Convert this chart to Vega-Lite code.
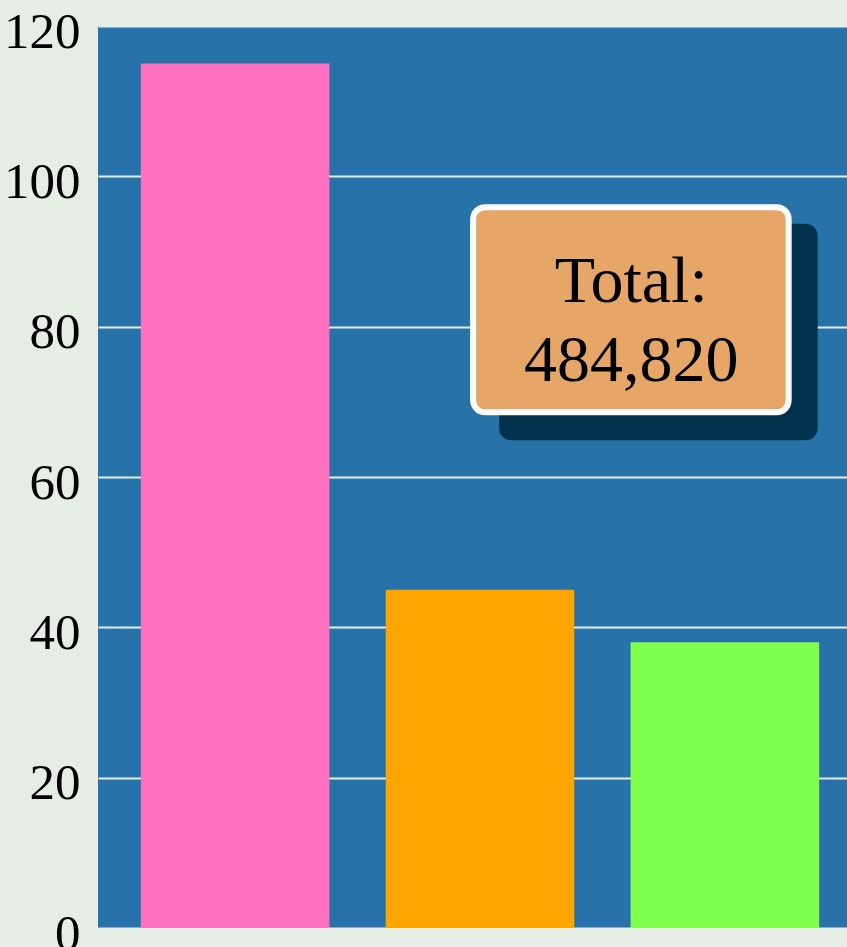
{
  "$schema": "https://vega.github.io/schema/vega-lite/v6.json",
  "width": 764,
  "height": 902,
  "autosize": {"type": "none"},
  "padding": {"left": 98, "top": 26, "right": 0, "bottom": 19},
  "background": "#e6ede5",
  "config": {"view": {"fill": "#2772a8", "stroke": null}, "font": "Liberation Serif"},
  "layer": [
    {
      "data": {"values": [
        {"category": "A", "value": 115},
        {"category": "B", "value": 45},
        {"category": "C", "value": 38}
      ]},
      "mark": {"type": "bar"},
      "encoding": {
        "x": {"field": "category", "type": "nominal", "sort": null, "axis": null,
              "scale": {"paddingInner": 0.23, "paddingOuter": 0.175}},
        "y": {"field": "value", "type": "quantitative",
              "scale": {"domain": [0, 120], "nice": false},
              "axis": {"values": [0, 20, 40, 60, 80, 100, 120], "grid": true, "gridColor": "#e6ede5", "gridWidth": 2,
                       "domain": false, "ticks": false, "labelFont": "Liberation Serif", "labelFontSize": 51,
                       "labelColor": "#000000", "labelPadding": 18, "labelOffset": 6, "title": null}},
        "color": {"field": "category", "type": "nominal", "legend": null,
                  "scale": {"domain": ["A", "B", "C"], "range": ["#ff70c0", "#ffa500", "#80ff4c"]}}
      }
    },
    {
      "data": {"values": [{"x1": 52.5, "x2": 94.2, "y1": 93.7, "y2": 64.9}]},
      "mark": {"type": "rect", "color": "#00324d", "cornerRadius": 12},
      "encoding": {
        "x": {"field": "x1", "type": "quantitative", "scale": {"domain": [0, 100]}, "axis": null},
        "x2": {"field": "x2"},
        "y": {"field": "y1", "type": "quantitative"},
        "y2": {"field": "y2"}
      }
    },
    {
      "data": {"values": [{"x1": 49.1, "x2": 90.4, "y1": 95.9, "y2": 68.6}]},
      "mark": {"type": "rect", "fill": "#e6a667", "stroke": "#ffffff", "strokeWidth": 6, "cornerRadius": 12},
      "encoding": {
        "x": {"field": "x1", "type": "quantitative", "scale": {"domain": [0, 100]}, "axis": null},
        "x2": {"field": "x2"},
        "y": {"field": "y1", "type": "quantitative"},
        "y2": {"field": "y2"}
      }
    },
    {
      "data": {"values": [{"x": 69.8, "y": 83.3, "label": "Total:\n484,820"}]},
      "mark": {"type": "text", "font": "Liberation Serif", "fontSize": 66, "lineBreak": "\n", "lineHeight": 79,
               "align": "center", "baseline": "alphabetic", "color": "#000000"},
      "encoding": {
        "x": {"field": "x", "type": "quantitative", "scale": {"domain": [0, 100]}, "axis": null},
        "y": {"field": "y", "type": "quantitative"},
        "text": {"field": "label"}
      }
    }
  ],
  "resolve": {"scale": {"x": "independent"}}
}
